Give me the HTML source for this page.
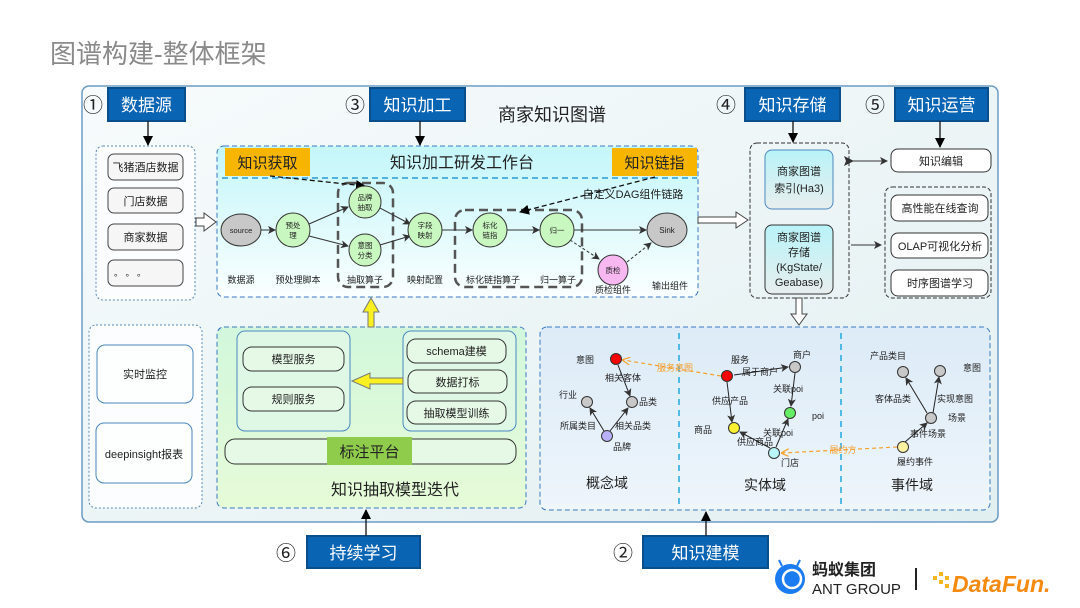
<!DOCTYPE html>
<html><head><meta charset="utf-8"><style>
html,body{margin:0;padding:0;background:#fff;width:1080px;height:608px;overflow:hidden}
svg{display:block}
text{font-family:"Liberation Sans","Noto Sans CJK SC",sans-serif;fill:#222}
</style></head><body>
<svg width="1080" height="608" viewBox="0 0 1080 608" xmlns="http://www.w3.org/2000/svg">
<defs>
<linearGradient id="bg" x1="0" y1="0" x2="1" y2="1"><stop offset="0" stop-color="#f7fbfc"/><stop offset="1" stop-color="#e2eff1"/></linearGradient>
<linearGradient id="wb" x1="0" y1="0" x2="0" y2="1"><stop offset="0" stop-color="#c4f6fa"/><stop offset="0.6" stop-color="#e4fbfc"/><stop offset="1" stop-color="#fbffff"/></linearGradient>
<linearGradient id="gr" x1="0" y1="0" x2="0" y2="1"><stop offset="0" stop-color="#d2f7dc"/><stop offset="1" stop-color="#e6fbd8"/></linearGradient>
<linearGradient id="dm" x1="0" y1="0" x2="0" y2="1"><stop offset="0" stop-color="#dcebf7"/><stop offset="1" stop-color="#eef5fb"/></linearGradient>
<linearGradient id="cy" x1="0" y1="0" x2="0" y2="1"><stop offset="0" stop-color="#b8f3f8"/><stop offset="1" stop-color="#e8eeee"/></linearGradient>
<marker id="ah" markerWidth="8" markerHeight="8" refX="7" refY="4" orient="auto" markerUnits="userSpaceOnUse"><path d="M0,0 L8,4 L0,8 L2,4 z" fill="#333"/></marker>
<marker id="ab" markerWidth="10" markerHeight="10" refX="9" refY="5" orient="auto" markerUnits="userSpaceOnUse"><path d="M0,0 L10,5 L0,10 z" fill="#000"/></marker>
<marker id="ao" markerWidth="8" markerHeight="8" refX="7" refY="4" orient="auto" markerUnits="userSpaceOnUse"><path d="M0,0 L8,4 L0,8" fill="none" stroke="#f5a030" stroke-width="1.2"/></marker>
<marker id="as" markerWidth="10" markerHeight="10" refX="1" refY="5" orient="auto-start-reverse" markerUnits="userSpaceOnUse"><path d="M10,0 L0,5 L10,10 L8,5 z" fill="#333"/></marker>
</defs>

<text x="50" y="63" font-size="26" style="fill:#8a8a8a">图谱构建-整体框架</text>

<rect x="82" y="86" width="916" height="436" rx="7" fill="url(#bg)" stroke="#6c9cc6" stroke-width="1.5"/>

<!-- blue labels -->
<g font-size="17">
<rect x="108" y="88" width="77" height="33" fill="#0a64b4" stroke="#0a4f8c" stroke-width="2"/><text x="146.5" y="111" text-anchor="middle" style="fill:#fff">数据源</text>
<rect x="370" y="88" width="95" height="33" fill="#0a64b4" stroke="#0a4f8c" stroke-width="2"/><text x="417.5" y="111" text-anchor="middle" style="fill:#fff">知识加工</text>
<rect x="745" y="88" width="95" height="33" fill="#0a64b4" stroke="#0a4f8c" stroke-width="2"/><text x="792.5" y="111" text-anchor="middle" style="fill:#fff">知识存储</text>
<rect x="895" y="88" width="93" height="33" fill="#0a64b4" stroke="#0a4f8c" stroke-width="2"/><text x="941.5" y="111" text-anchor="middle" style="fill:#fff">知识运营</text>
<rect x="307" y="536" width="113" height="32" fill="#0a64b4" stroke="#0a4f8c" stroke-width="2"/><text x="363.5" y="559" text-anchor="middle" style="fill:#fff">持续学习</text>
<rect x="643" y="536" width="125" height="32" fill="#0a64b4" stroke="#0a4f8c" stroke-width="2"/><text x="705.5" y="559" text-anchor="middle" style="fill:#fff">知识建模</text>
</g>
<g font-size="20">
<text x="83" y="112">①</text><text x="345" y="112">③</text><text x="716" y="112">④</text><text x="865" y="112">⑤</text><text x="276" y="560">⑥</text><text x="613" y="560">②</text>
</g>
<text x="552" y="121" font-size="18" text-anchor="middle">商家知识图谱</text>

<!-- black arrows from labels -->
<g stroke="#111" stroke-width="1.3" marker-end="url(#ab)">
<line x1="148" y1="121" x2="148" y2="145"/>
<line x1="420" y1="121" x2="420" y2="145"/>
<line x1="793" y1="121" x2="793" y2="142"/>
<line x1="940" y1="121" x2="940" y2="147"/>
<line x1="366" y1="536" x2="366" y2="510"/>
<line x1="706" y1="536" x2="706" y2="512"/>
</g>

<!-- data sources -->
<rect x="96" y="146" width="99" height="154" rx="7" fill="#fbfdfe" stroke="#5a8ab8" stroke-dasharray="2,2"/>
<g font-size="11" fill="#f6f6f6" stroke="#444" stroke-width="1">
<rect x="108" y="154" width="75" height="26" rx="6"/><rect x="108" y="188" width="75" height="25" rx="6"/><rect x="108" y="224" width="75" height="26" rx="6"/><rect x="108" y="260" width="75" height="26" rx="6"/>
</g>
<g font-size="11" text-anchor="middle" font-family="Liberation Serif,Noto Serif CJK SC,serif">
<text x="145.5" y="171">飞猪酒店数据</text><text x="145.5" y="205">门店数据</text><text x="145.5" y="241">商家数据</text><text x="130" y="276" font-size="9">。 。 。</text>
</g>
<path d="M196,218 L204,218 L204,213 L216,222 L204,231 L204,226 L196,226 z" fill="#fff" stroke="#444"/>

<!-- workbench -->
<rect x="217" y="146" width="481" height="151" rx="7" fill="url(#wb)" stroke="#3a7ac0" stroke-dasharray="5,3"/>
<line x1="222" y1="178" x2="697" y2="178" stroke="#2a9ad8" stroke-width="1.6" stroke-dasharray="6,4"/>
<rect x="225" y="148" width="85" height="28" fill="#f8b500"/><text x="267.5" y="168" font-size="15" text-anchor="middle">知识获取</text>
<rect x="612" y="148" width="85" height="28" fill="#f8b500"/><text x="654.5" y="168" font-size="15" text-anchor="middle">知识链指</text>
<text x="462" y="168" font-size="16" text-anchor="middle">知识加工研发工作台</text>

<rect x="338" y="183" width="55" height="104" rx="10" fill="none" stroke="#555" stroke-width="2.5" stroke-dasharray="9,5"/>
<rect x="455" y="210" width="127" height="77" rx="10" fill="none" stroke="#555" stroke-width="2.5" stroke-dasharray="9,5"/>
<g stroke="#111" stroke-width="1.3" stroke-dasharray="5,3" fill="none" marker-end="url(#ab)">
<path d="M270,176 L365,186"/><path d="M655,177 L520,212"/>
</g>
<text x="633" y="198" font-size="11" text-anchor="middle">自定义DAG组件链路</text>

<g stroke="#333" stroke-width="1" fill="none" marker-end="url(#ah)">
<line x1="261" y1="230" x2="275" y2="230"/>
<line x1="309" y1="224" x2="348" y2="207"/>
<line x1="309" y1="236" x2="348" y2="246"/>
<line x1="380" y1="208" x2="410" y2="224"/>
<line x1="380" y1="245" x2="410" y2="236"/>
<line x1="442" y1="230" x2="472" y2="230"/>
<line x1="507" y1="230" x2="539" y2="230"/>
<line x1="574" y1="230" x2="646" y2="230"/>
<line x1="570" y1="240" x2="599" y2="259" stroke-dasharray="3,2"/>
<line x1="627" y1="262" x2="651" y2="243" stroke-dasharray="3,2"/>
</g>
<g stroke="#333" stroke-width="1">
<ellipse cx="241" cy="230" rx="20" ry="16" fill="#c8c8c8"/>
<circle cx="293" cy="230" r="17" fill="#c9f7c0"/>
<circle cx="365" cy="202" r="16" fill="#c9f7c0"/>
<circle cx="365" cy="250" r="16" fill="#c9f7c0"/>
<circle cx="425" cy="230" r="17" fill="#c9f7c0"/>
<circle cx="490" cy="230" r="17" fill="#c9f7c0"/>
<circle cx="557" cy="230" r="17" fill="#c9f7c0"/>
<ellipse cx="667" cy="230" rx="20" ry="17" fill="#c8c8c8"/>
<circle cx="613" cy="270" r="15" fill="#f7b8f2"/>
</g>
<g font-size="7.5" text-anchor="middle">
<text x="241" y="233">source</text>
<text x="293" y="228">预处</text><text x="293" y="238">理</text>
<text x="365" y="200">品牌</text><text x="365" y="210">抽取</text>
<text x="365" y="248">意图</text><text x="365" y="258">分类</text>
<text x="425" y="228">字段</text><text x="425" y="238">映射</text>
<text x="490" y="228">标化</text><text x="490" y="238">链指</text>
<text x="557" y="233">归一</text>
<text x="667" y="233" font-size="8">Sink</text>
<text x="613" y="273">质检</text>
</g>
<g font-size="9" text-anchor="middle" font-family="Liberation Serif,Noto Serif CJK SC,serif">
<text x="241" y="283">数据源</text><text x="298" y="283">预处理脚本</text><text x="365" y="283">抽取算子</text><text x="425" y="283">映射配置</text><text x="493" y="283">标化链指算子</text><text x="558" y="283">归一算子</text><text x="613" y="293">质检组件</text><text x="670" y="289">输出组件</text>
</g>

<path d="M698,217 L736,217 L736,212 L748,220 L736,228 L736,223 L698,223 z" fill="#fff" stroke="#444"/>

<!-- storage -->
<rect x="750" y="143" width="99" height="155" rx="7" fill="none" stroke="#333" stroke-dasharray="4,2"/>
<rect x="765" y="150" width="68" height="59" rx="7" fill="url(#cy)" stroke="#4a88c0"/>
<rect x="765" y="225" width="68" height="69" rx="7" fill="url(#cy)" stroke="#333"/>
<g font-size="11" text-anchor="middle">
<text x="799" y="175">商家图谱</text><text x="799" y="192">索引(Ha3)</text>
<text x="799" y="241">商家图谱</text><text x="799" y="256">存储</text><text x="799" y="271">(KgState/</text><text x="799" y="286">Geabase)</text>
</g>
<path d="M796,298 L802,298 L802,314 L807,314 L799,325 L791,314 L796,314 z" fill="#fff" stroke="#444"/>

<!-- operations -->
<line x1="853" y1="161" x2="887" y2="161" stroke="#333" marker-start="url(#as)" marker-end="url(#ah)"/>
<line x1="851" y1="245" x2="881" y2="245" stroke="#333" marker-end="url(#ah)"/>
<rect x="891" y="149" width="100" height="23" rx="7" fill="#fff" stroke="#333"/>
<rect x="885" y="187" width="106" height="111" rx="7" fill="none" stroke="#333" stroke-dasharray="4,2"/>
<g fill="#fff" stroke="#333"><rect x="891" y="195" width="97" height="26" rx="7"/><rect x="891" y="233" width="97" height="25" rx="7"/><rect x="891" y="270" width="97" height="26" rx="7"/></g>
<g font-size="11" text-anchor="middle">
<text x="941" y="165">知识编辑</text><text x="940" y="212">高性能在线查询</text><text x="940" y="250">OLAP可视化分析</text><text x="940" y="287">时序图谱学习</text>
</g>

<!-- monitoring -->
<rect x="89" y="325" width="113" height="183" rx="7" fill="#fbfdfe" stroke="#5a8ab8" stroke-dasharray="2,2"/>
<rect x="97" y="345" width="96" height="58" rx="8" fill="#fdfefe" stroke="#4a88c0"/>
<rect x="96" y="423" width="96" height="60" rx="8" fill="#fdfefe" stroke="#4a88c0"/>
<text x="145" y="378" font-size="11" text-anchor="middle">实时监控</text>
<text x="144" y="458" font-size="11" text-anchor="middle">deepinsight报表</text>

<!-- model iteration -->
<rect x="217" y="327" width="309" height="181" rx="7" fill="url(#gr)" stroke="#3a7ac0" stroke-dasharray="5,3"/>
<rect x="237" y="331" width="113" height="100" rx="8" fill="#dff8e6" stroke="#4a88c0"/>
<rect x="403" y="331" width="113" height="100" rx="8" fill="#dff8e6" stroke="#4a88c0"/>
<g fill="#e6f8e6" stroke="#333">
<rect x="243" y="347" width="101" height="24" rx="9"/><rect x="243" y="387" width="101" height="24" rx="9"/>
<rect x="407" y="339" width="99" height="24" rx="9"/><rect x="408" y="370" width="99" height="23" rx="9"/><rect x="407" y="401" width="99" height="23" rx="9"/>
<rect x="225" y="439" width="291" height="25" rx="10"/>
</g>
<g font-size="11" text-anchor="middle">
<text x="293.5" y="363">模型服务</text><text x="293.5" y="403">规则服务</text>
<text x="456.5" y="355">schema建模</text><text x="457.5" y="386">数据打标</text><text x="456.5" y="417">抽取模型训练</text>
</g>
<path d="M403,378 L370,378 L370,373 L352,381 L370,389 L370,384 L403,384 z" fill="#f8f020" stroke="#777"/>
<rect x="327" y="437" width="85" height="28" fill="#8fcc4c"/>
<text x="369.5" y="457" font-size="15" text-anchor="middle">标注平台</text>
<text x="395" y="495" font-size="16" text-anchor="middle">知识抽取模型迭代</text>
<path d="M368,327 L368,312 L363,312 L371,298 L379,312 L374,312 L374,327 z" fill="#f8f020" stroke="#777"/>

<!-- domains -->
<rect x="540" y="327" width="450" height="183" rx="7" fill="url(#dm)" stroke="#3a7ac0" stroke-dasharray="5,3"/>
<line x1="679" y1="333" x2="679" y2="508" stroke="#20a8e0" stroke-width="1.5" stroke-dasharray="6,5"/>
<line x1="841" y1="333" x2="841" y2="508" stroke="#20a8e0" stroke-width="1.5" stroke-dasharray="6,5"/>

<g stroke="#222" stroke-width="1" fill="none" marker-end="url(#ah)">
<line x1="618" y1="365" x2="630" y2="396"/>
<line x1="604" y1="431" x2="590" y2="408"/>
<line x1="610" y1="431" x2="628" y2="408"/>
<line x1="734" y1="375" x2="788" y2="367"/>
<line x1="727" y1="382" x2="732" y2="422"/>
<line x1="795" y1="373" x2="791" y2="406"/>
<line x1="770" y1="448" x2="740" y2="432"/>
<line x1="776" y1="447" x2="788" y2="419"/>
<line x1="927" y1="413" x2="906" y2="378"/>
<line x1="933" y1="413" x2="939" y2="377"/>
<line x1="905" y1="442" x2="927" y2="423"/>
</g>
<g stroke="#f5a030" stroke-width="1.2" stroke-dasharray="4,3" fill="none" marker-end="url(#ao)">
<line x1="721" y1="376" x2="623" y2="360"/>
<line x1="897" y1="447" x2="782" y2="453"/>
</g>
<g stroke="#333" stroke-width="1">
<circle cx="616" cy="359" r="5.5" fill="#f00"/>
<circle cx="632" cy="402" r="5.5" fill="#c8c8c8"/>
<circle cx="587" cy="402" r="5.5" fill="#c8c8c8"/>
<circle cx="607" cy="436" r="5.5" fill="#b8b0f8"/>
<circle cx="727" cy="376" r="5.5" fill="#f00"/>
<circle cx="795" cy="367" r="5.5" fill="#c8c8c8"/>
<circle cx="790" cy="413" r="5.5" fill="#66ee66"/>
<circle cx="734" cy="428" r="5.5" fill="#f8f030"/>
<circle cx="774" cy="453" r="5.5" fill="#b8f6f8"/>
<circle cx="903" cy="372" r="5.5" fill="#c8c8c8"/>
<circle cx="940" cy="371" r="5.5" fill="#c8c8c8"/>
<circle cx="931" cy="418" r="5.5" fill="#c8c8c8"/>
<circle cx="903" cy="447" r="5.5" fill="#fbf3a0"/>
</g>
<g font-size="9" text-anchor="middle">
<text x="585" y="363">意图</text><text x="623" y="381">相关客体</text><text x="648" y="405">品类</text><text x="568" y="398">行业</text>
<text x="578" y="429">所属类目</text><text x="633" y="429">相关品类</text><text x="622" y="450">品牌</text>
<text x="740" y="363">服务</text><text x="802" y="358">商户</text><text x="760" y="375">属于商户</text><text x="730" y="404">供应产品</text>
<text x="788" y="392">关联poi</text><text x="818" y="419">poi</text><text x="703" y="433">商品</text><text x="778" y="436">关联poi</text>
<text x="755" y="445">供应商品</text><text x="790" y="466">门店</text>
<text x="888" y="359">产品类目</text><text x="972" y="371">意图</text><text x="893" y="402">客体品类</text><text x="955" y="402">实现意图</text>
<text x="957" y="421">场景</text><text x="928" y="437">事件场景</text><text x="915" y="465">履约事件</text>
<text x="675" y="371" style="fill:#f5a030">服务意图</text><text x="843" y="453" style="fill:#f5a030">履约方</text>
</g>
<g font-size="14" text-anchor="middle"><text x="607" y="488">概念域</text><text x="765" y="490">实体域</text><text x="912" y="490">事件域</text></g>

<!-- logos -->
<circle cx="790" cy="579" r="15" fill="#1a7cf0"/>
<circle cx="792" cy="579" r="9" fill="none" stroke="#fff" stroke-width="2.5"/>
<line x1="782" y1="566" x2="779" y2="560" stroke="#1a7cf0" stroke-width="2"/><line x1="797" y1="566" x2="800" y2="560" stroke="#1a7cf0" stroke-width="2"/>
<text x="812" y="575" font-size="16" font-weight="bold">蚂蚁集团</text>
<text x="812" y="594" font-size="15">ANT GROUP</text>
<line x1="916" y1="568" x2="916" y2="590" stroke="#222" stroke-width="2"/>
<g fill="#f5b820"><rect x="933" y="576" width="4" height="4"/><rect x="939" y="572" width="4" height="4"/><rect x="939" y="580" width="4" height="4"/><rect x="945" y="576" width="4" height="4"/><rect x="945" y="584" width="4" height="4"/></g>
<text x="952" y="592" font-size="23" font-weight="bold" font-style="italic" style="fill:#f58a10">DataFun.</text>
</svg>
</body></html>
